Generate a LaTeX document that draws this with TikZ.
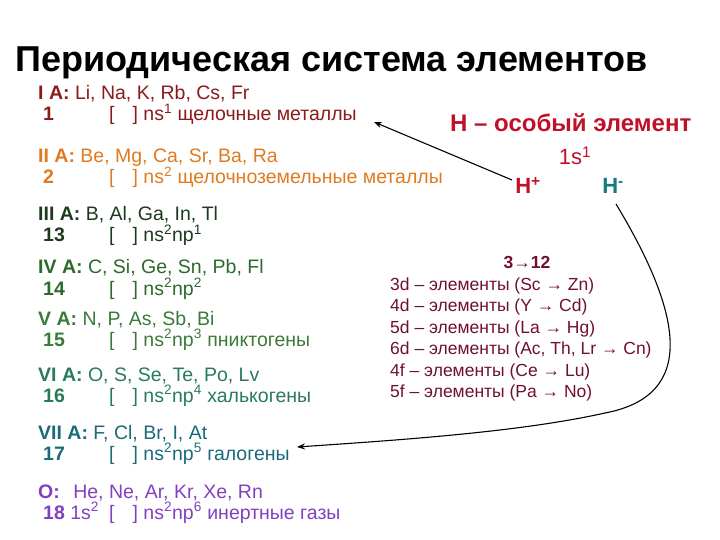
\documentclass[tikz,border=0pt]{standalone}
\usepackage{fontspec}
\setmainfont{Liberation Sans}
\usetikzlibrary{arrows.meta}
\definecolor{cI}{HTML}{8B1A1A}
\definecolor{cII}{HTML}{E07A20}
\definecolor{cIII}{HTML}{1C3A1C}
\definecolor{cIV}{HTML}{2A6A2A}
\definecolor{cV}{HTML}{3A7A3A}
\definecolor{cVI}{HTML}{2A7A5A}
\definecolor{cVII}{HTML}{1A6A7A}
\definecolor{cO}{HTML}{8040C0}
\definecolor{hred}{HTML}{C0102A}
\definecolor{hteal}{HTML}{157A80}
\definecolor{trans}{HTML}{701030}
\tikzset{
 t/.style={anchor=base west,inner sep=0pt,font=\fontsize{19.5bp}{21bp}\selectfont},
 tr/.style={anchor=base west,inner sep=0pt,font=\fontsize{17.5bp}{20bp}\selectfont,text=trans},
 arr/.style={draw=black,line width=1.1pt,-{Stealth[length=8pt,width=6pt]}}
}
\newcommand{\grp}[6]{%
 \node[t,text=#1] (#2a) at (38,#3) {#4};
 \node[t,text=#1] (#2n) at (43,#3+21) {#5};
 \node[t,text=#1] (#2b) at (109,#3+21) {[\hspace{18bp}] #6};}
\begin{document}
\begin{tikzpicture}[x=1bp,y=-1bp]
\useasboundingbox (0,0) rectangle (720,540);
\node[anchor=base west,inner sep=0pt,font=\fontsize{36bp}{38bp}\selectfont\bfseries] (title) at (15,72) {Периодическая система элементов};
\grp{cI}{g1}{100}{\textbf{I A:} Li, Na, K, Rb, Cs, Fr}{\textbf{1}}{ns\textsuperscript{1} щелочные металлы}
\grp{cII}{g2}{163}{\textbf{II A:} Be, Mg, Ca, Sr, Ba, Ra}{\textbf{2}}{ns\textsuperscript{2} щелочноземельные металлы}
\grp{cIII}{g3}{221}{\textbf{III A:} B, Al, Ga, In, Tl}{\textbf{13}}{ns\textsuperscript{2}np\textsuperscript{1}}
\grp{cIV}{g4}{274}{\textbf{IV A:} C, Si, Ge, Sn, Pb, Fl}{\textbf{14}}{ns\textsuperscript{2}np\textsuperscript{2}}
\grp{cV}{g5}{325}{\textbf{V A:} N, P, As, Sb, Bi}{\textbf{15}}{ns\textsuperscript{2}np\textsuperscript{3} пниктогены}
\grp{cVI}{g6}{381}{\textbf{VI A:} O, S, Se, Te, Po, Lv}{\textbf{16}}{ns\textsuperscript{2}np\textsuperscript{4} халькогены}
\grp{cVII}{g7}{439}{\textbf{VII A:} F, Cl, Br, I, At}{\textbf{17}}{ns\textsuperscript{2}np\textsuperscript{5} галогены}
\grp{cO}{g8}{498}{\textbf{O:}\hspace{8bp} He, Ne, Ar, Kr, Xe, Rn}{\textbf{18} 1s\textsuperscript{2}}{ns\textsuperscript{2}np\textsuperscript{6} инертные газы}
\node[anchor=base west,inner sep=0pt,text=hred,font=\fontsize{24bp}{27bp}\selectfont\bfseries] (hs) at (450,132) {H – особый элемент};
\node[anchor=base,inner sep=0pt,text=hred,font=\fontsize{22bp}{24bp}\selectfont] (s1) at (575,165) {1s\textsuperscript{1}};
\node[anchor=base,inner sep=0pt,text=hred,font=\fontsize{22bp}{24bp}\selectfont\bfseries] (hp) at (528,194) {H\textsuperscript{+}};
\node[anchor=base,inner sep=0pt,text=hteal,font=\fontsize{22bp}{24bp}\selectfont\bfseries] (hm) at (613,194) {H\textsuperscript{-}};
\node[anchor=base,inner sep=0pt,text=trans,font=\fontsize{17.5bp}{20bp}\selectfont\bfseries] (t0) at (527,269) {3→12};
\node[tr] (t1) at (390,290) {3d – элементы (Sc → Zn)};
\node[tr] (t2) at (390,311) {4d – элементы (Y → Cd)};
\node[tr] (t3) at (390,333) {5d – элементы (La → Hg)};
\node[tr] (t4) at (390,354) {6d – элементы (Ac, Th, Lr → Cn)};
\node[tr] (t5) at (390,376) {4f – элементы (Ce → Lu)};
\node[tr] (t6) at (390,397) {5f – элементы (Pa → No)};
\coordinate (s) at (512,180);
\coordinate (e1) at (374,122);
\coordinate (e2) at (297,447);
\draw[arr] (s) -- (e1);
\draw[arr] (616,204) .. controls (680,310) and (700,395) .. (605,413) .. controls (520,432) and (400,440) .. (e2);
\end{tikzpicture}
\end{document}
